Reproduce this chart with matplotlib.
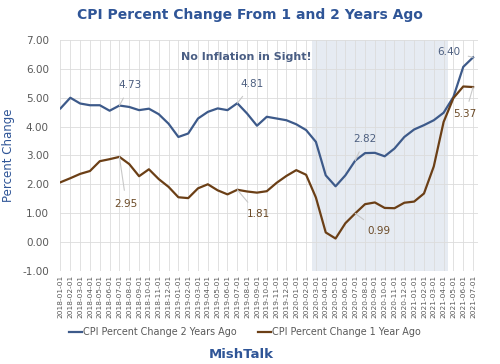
import matplotlib
matplotlib.use('Agg')
import matplotlib.pyplot as plt
import numpy as np

# monthly dates, 2018-01 .. 2021-07
months = ['%d-%02d-01' % (y, m) for y in (2018, 2019, 2020, 2021) for m in range(1, 13)][:43]

cpi_2yr = [4.63, 5.00, 4.80, 4.74, 4.74, 4.55, 4.73, 4.68, 4.57, 4.62, 4.43, 4.10,
           3.64, 3.76, 4.28, 4.51, 4.63, 4.57, 4.81, 4.45, 4.03, 4.34, 4.28, 4.22,
           4.08, 3.88, 3.47, 2.31, 1.93, 2.31, 2.82, 3.08, 3.09, 2.97, 3.24, 3.64,
           3.90, 4.05, 4.22, 4.48, 5.03, 6.07, 6.40]
cpi_1yr = [2.07, 2.21, 2.36, 2.46, 2.80, 2.87, 2.95, 2.70, 2.28, 2.52, 2.18, 1.91,
           1.55, 1.52, 1.86, 2.00, 1.79, 1.65, 1.81, 1.75, 1.71, 1.76, 2.05, 2.29,
           2.49, 2.33, 1.54, 0.33, 0.12, 0.65, 0.99, 1.31, 1.37, 1.18, 1.17, 1.36,
           1.40, 1.68, 2.62, 4.16, 4.99, 5.39, 5.37]

# (index, value, label text offset in data units)
callouts_2yr = [(6, 4.73, (1.1, 0.7)), (18, 4.81, (1.5, 0.66)),
                (30, 2.82, (1.0, 0.75)), (42, 6.40, (-2.5, 0.2))]
callouts_1yr = [(6, 2.95, (0.7, -1.62)), (18, 1.81, (2.1, -0.85)),
                (30, 0.99, (2.4, -0.6)), (42, 5.37, (-0.8, -0.95))]

blue = '#3d5a8a'
brown = '#6b3f16'
title_blue = '#2f5597'

fig = plt.figure(figsize=(5, 3.64), dpi=100)
ax = fig.add_axes([0.12, 0.256, 0.836, 0.634])

x = np.arange(len(months))
ax.axvspan(25.6, 39.4, ymin=0, ymax=1, color='#e6ebf2', zorder=0, lw=0)
ax.plot(x, cpi_2yr, color=blue, lw=1.6, zorder=3, label='CPI Percent Change 2 Years Ago')
ax.plot(x, cpi_1yr, color=brown, lw=1.6, zorder=3, label='CPI Percent Change 1 Year Ago')

for i, v, (dx, dy) in callouts_2yr:
    ax.annotate('%.2f' % v, xy=(i, v), xytext=(i + dx, v + dy), fontsize=7.5, color='#4d5f80',
                ha='center', va='center',
                arrowprops=dict(arrowstyle='-', color='#c8c8c8', lw=0.8, shrinkB=0, shrinkA=4))
for i, v, (dx, dy) in callouts_1yr:
    ax.annotate('%.2f' % v, xy=(i, v), xytext=(i + dx, v + dy), fontsize=7.5, color='#6b4a26',
                ha='center', va='center',
                arrowprops=dict(arrowstyle='-', color='#c8c8c8', lw=0.8, shrinkB=0, shrinkA=4))

ax.set_xlim(-0.05, 42.5)
ax.set_ylim(-1, 7)
ax.set_yticks(np.arange(-1, 8, 1))
ax.set_yticklabels(['%.2f' % t for t in np.arange(-1, 8, 1)], fontsize=7.5, color='#595959')
ax.set_xticks(x)
ax.set_xticklabels(months, rotation=90, fontsize=5.3, color='#595959')
ax.tick_params(length=0, pad=3)
ax.tick_params(axis='y', pad=8)
ax.grid(True, color='#dcdcdc', lw=0.6)
ax.set_axisbelow(True)
for s in ax.spines.values():
    s.set_visible(False)
ax.set_ylabel('Percent Change', fontsize=8.5, color=title_blue, labelpad=5)

ax.text(18.9, 6.41, 'No Inflation in Sight!', fontsize=8, fontweight='bold', color='#4a5e84',
        ha='center', va='center')

fig.text(0.5, 0.958, 'CPI Percent Change From 1 and 2 Years Ago', fontsize=10,
         fontweight='bold', color=title_blue, ha='center', va='center')
fig.legend(loc='center', bbox_to_anchor=(0.49, 0.088), ncol=2, frameon=False, fontsize=6.9,
           handlelength=1.4, handletextpad=0.1, columnspacing=2.2, labelcolor='#595959')
fig.text(0.482, 0.025, 'MishTalk', fontsize=9.5, fontweight='bold', color=title_blue,
         ha='center', va='center')

fig.savefig('out.png', dpi=100)
